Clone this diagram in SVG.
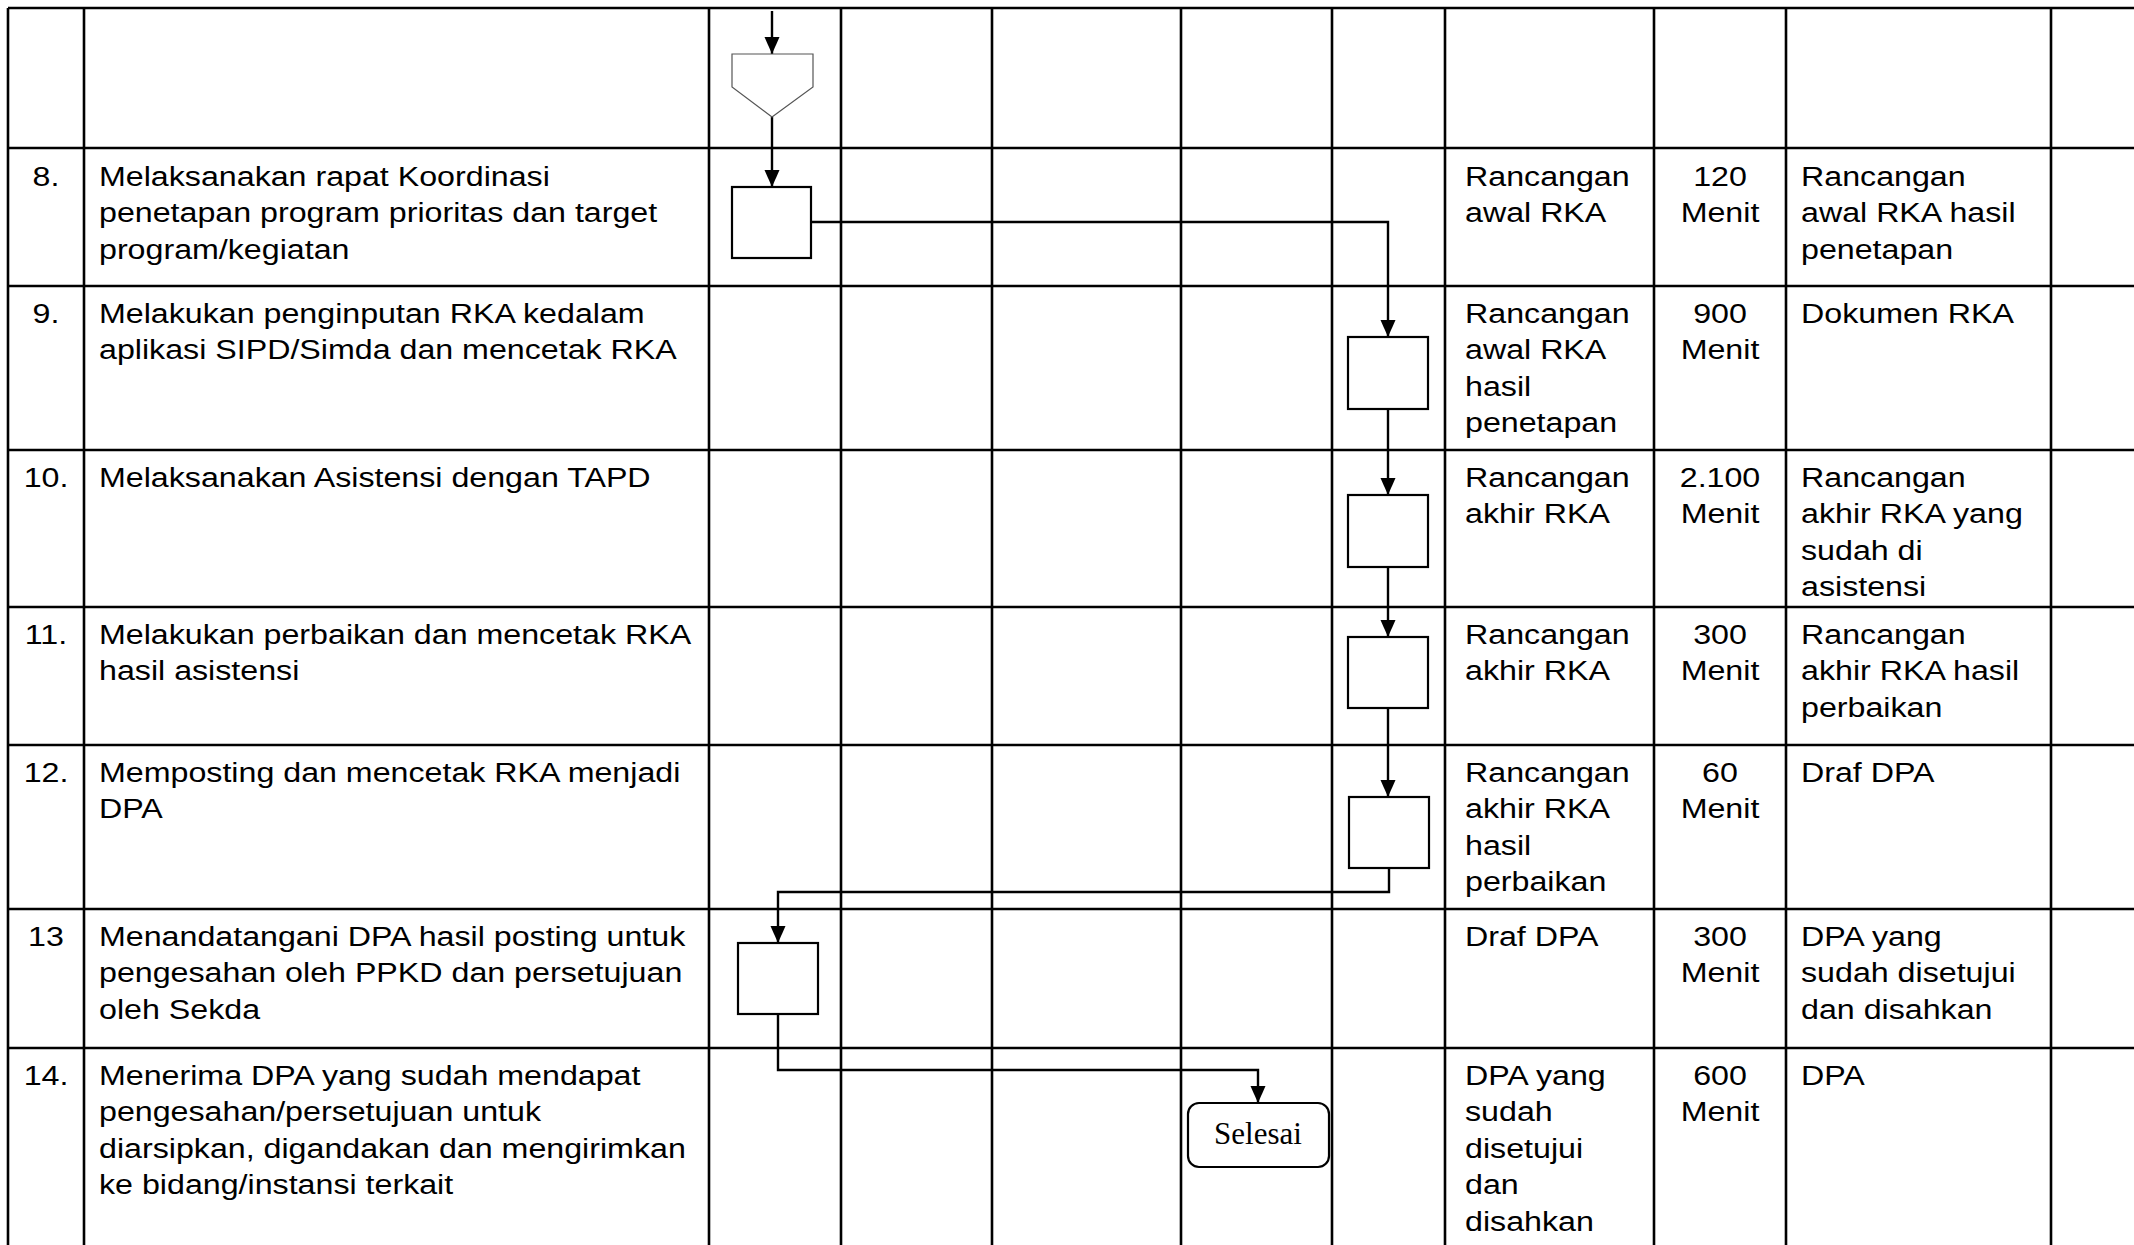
<svg xmlns="http://www.w3.org/2000/svg" width="2134" height="1245" viewBox="0 0 2134 1245">
<style>
.grid line{stroke:#000;stroke-width:2.6}
.t{font-family:"Liberation Sans",Arial,sans-serif;font-size:28px;fill:#000}
.box{fill:#fff;stroke:#000;stroke-width:2.2}
.conn{fill:none;stroke:#000;stroke-width:2.4}
.off{fill:#fff;stroke:#555;stroke-width:1.2}
.sel{font-family:"Liberation Serif","Times New Roman",serif;font-size:31px;fill:#000}
</style>
<defs>
<marker id="ah" markerUnits="userSpaceOnUse" markerWidth="17" markerHeight="17" viewBox="0 0 17 17" refX="17" refY="8.5" orient="auto">
<path d="M0,1 L17,8.5 L0,16 Z" fill="#000"/>
</marker>
</defs>
<rect width="2134" height="1245" fill="#fff"/>
<g id="table" class="grid">
<line x1="8" y1="8" x2="2134" y2="8"/>
<line x1="8" y1="148" x2="2134" y2="148"/>
<line x1="8" y1="286" x2="2134" y2="286"/>
<line x1="8" y1="450" x2="2134" y2="450"/>
<line x1="8" y1="607" x2="2134" y2="607"/>
<line x1="8" y1="745" x2="2134" y2="745"/>
<line x1="8" y1="909" x2="2134" y2="909"/>
<line x1="8" y1="1048" x2="2134" y2="1048"/>
<line x1="8" y1="8" x2="8" y2="1245"/>
<line x1="84" y1="8" x2="84" y2="1245"/>
<line x1="709" y1="8" x2="709" y2="1245"/>
<line x1="841" y1="8" x2="841" y2="1245"/>
<line x1="992" y1="8" x2="992" y2="1245"/>
<line x1="1181" y1="8" x2="1181" y2="1245"/>
<line x1="1332" y1="8" x2="1332" y2="1245"/>
<line x1="1445" y1="8" x2="1445" y2="1245"/>
<line x1="1654" y1="8" x2="1654" y2="1245"/>
<line x1="1786" y1="8" x2="1786" y2="1245"/>
<line x1="2051" y1="8" x2="2051" y2="1245"/>
</g>
<g id="texts" class="t">
<g id="row8">
<text class="t" text-anchor="middle" transform="matrix(1.15 0 0 1 46 186)">8.</text>
<text class="t" transform="matrix(1.15 0 0 1 99 186)"><tspan x="0" y="0">Melaksanakan rapat Koordinasi</tspan><tspan x="0" y="36.5">penetapan program prioritas dan target</tspan><tspan x="0" y="73">program/kegiatan</tspan></text>
<text class="t" transform="matrix(1.15 0 0 1 1465 186)"><tspan x="0" y="0">Rancangan</tspan><tspan x="0" y="36.5">awal RKA</tspan></text>
<text class="t" text-anchor="middle" transform="matrix(1.15 0 0 1 1720 186)"><tspan x="0" y="0">120</tspan><tspan x="0" y="36.5">Menit</tspan></text>
<text class="t" transform="matrix(1.15 0 0 1 1801 186)"><tspan x="0" y="0">Rancangan</tspan><tspan x="0" y="36.5">awal RKA hasil</tspan><tspan x="0" y="73">penetapan</tspan></text>
</g>
<g id="row9">
<text class="t" text-anchor="middle" transform="matrix(1.15 0 0 1 46 323)">9.</text>
<text class="t" transform="matrix(1.15 0 0 1 99 323)"><tspan x="0" y="0">Melakukan penginputan RKA kedalam</tspan><tspan x="0" y="36.5">aplikasi SIPD/Simda dan mencetak RKA</tspan></text>
<text class="t" transform="matrix(1.15 0 0 1 1465 323)"><tspan x="0" y="0">Rancangan</tspan><tspan x="0" y="36.5">awal RKA</tspan><tspan x="0" y="73">hasil</tspan><tspan x="0" y="109.5">penetapan</tspan></text>
<text class="t" text-anchor="middle" transform="matrix(1.15 0 0 1 1720 323)"><tspan x="0" y="0">900</tspan><tspan x="0" y="36.5">Menit</tspan></text>
<text class="t" transform="matrix(1.15 0 0 1 1801 323)">Dokumen RKA</text>
</g>
<g id="row10">
<text class="t" text-anchor="middle" transform="matrix(1.15 0 0 1 46 487)">10.</text>
<text class="t" transform="matrix(1.15 0 0 1 99 487)">Melaksanakan Asistensi dengan TAPD</text>
<text class="t" transform="matrix(1.15 0 0 1 1465 487)"><tspan x="0" y="0">Rancangan</tspan><tspan x="0" y="36.5">akhir RKA</tspan></text>
<text class="t" text-anchor="middle" transform="matrix(1.15 0 0 1 1720 487)"><tspan x="0" y="0">2.100</tspan><tspan x="0" y="36.5">Menit</tspan></text>
<text class="t" transform="matrix(1.15 0 0 1 1801 487)"><tspan x="0" y="0">Rancangan</tspan><tspan x="0" y="36.5">akhir RKA yang</tspan><tspan x="0" y="73">sudah di</tspan><tspan x="0" y="109.5">asistensi</tspan></text>
</g>
<g id="row11">
<text class="t" text-anchor="middle" transform="matrix(1.15 0 0 1 46 644)">11.</text>
<text class="t" transform="matrix(1.15 0 0 1 99 644)"><tspan x="0" y="0">Melakukan perbaikan dan mencetak RKA</tspan><tspan x="0" y="36.5">hasil asistensi</tspan></text>
<text class="t" transform="matrix(1.15 0 0 1 1465 644)"><tspan x="0" y="0">Rancangan</tspan><tspan x="0" y="36.5">akhir RKA</tspan></text>
<text class="t" text-anchor="middle" transform="matrix(1.15 0 0 1 1720 644)"><tspan x="0" y="0">300</tspan><tspan x="0" y="36.5">Menit</tspan></text>
<text class="t" transform="matrix(1.15 0 0 1 1801 644)"><tspan x="0" y="0">Rancangan</tspan><tspan x="0" y="36.5">akhir RKA hasil</tspan><tspan x="0" y="73">perbaikan</tspan></text>
</g>
<g id="row12">
<text class="t" text-anchor="middle" transform="matrix(1.15 0 0 1 46 782)">12.</text>
<text class="t" transform="matrix(1.15 0 0 1 99 782)"><tspan x="0" y="0">Memposting dan mencetak RKA menjadi</tspan><tspan x="0" y="36.5">DPA</tspan></text>
<text class="t" transform="matrix(1.15 0 0 1 1465 782)"><tspan x="0" y="0">Rancangan</tspan><tspan x="0" y="36.5">akhir RKA</tspan><tspan x="0" y="73">hasil</tspan><tspan x="0" y="109.5">perbaikan</tspan></text>
<text class="t" text-anchor="middle" transform="matrix(1.15 0 0 1 1720 782)"><tspan x="0" y="0">60</tspan><tspan x="0" y="36.5">Menit</tspan></text>
<text class="t" transform="matrix(1.15 0 0 1 1801 782)">Draf DPA</text>
</g>
<g id="row13">
<text class="t" text-anchor="middle" transform="matrix(1.15 0 0 1 46 946)">13</text>
<text class="t" transform="matrix(1.15 0 0 1 99 946)"><tspan x="0" y="0">Menandatangani DPA hasil posting untuk</tspan><tspan x="0" y="36.5">pengesahan oleh PPKD dan persetujuan</tspan><tspan x="0" y="73">oleh Sekda</tspan></text>
<text class="t" transform="matrix(1.15 0 0 1 1465 946)">Draf DPA</text>
<text class="t" text-anchor="middle" transform="matrix(1.15 0 0 1 1720 946)"><tspan x="0" y="0">300</tspan><tspan x="0" y="36.5">Menit</tspan></text>
<text class="t" transform="matrix(1.15 0 0 1 1801 946)"><tspan x="0" y="0">DPA yang</tspan><tspan x="0" y="36.5">sudah disetujui</tspan><tspan x="0" y="73">dan disahkan</tspan></text>
</g>
<g id="row14">
<text class="t" text-anchor="middle" transform="matrix(1.15 0 0 1 46 1085)">14.</text>
<text class="t" transform="matrix(1.15 0 0 1 99 1085)"><tspan x="0" y="0">Menerima DPA yang sudah mendapat</tspan><tspan x="0" y="36.5">pengesahan/persetujuan untuk</tspan><tspan x="0" y="73">diarsipkan, digandakan dan mengirimkan</tspan><tspan x="0" y="109.5">ke bidang/instansi terkait</tspan></text>
<text class="t" transform="matrix(1.15 0 0 1 1465 1085)"><tspan x="0" y="0">DPA yang</tspan><tspan x="0" y="36.5">sudah</tspan><tspan x="0" y="73">disetujui</tspan><tspan x="0" y="109.5">dan</tspan><tspan x="0" y="146">disahkan</tspan></text>
<text class="t" text-anchor="middle" transform="matrix(1.15 0 0 1 1720 1085)"><tspan x="0" y="0">600</tspan><tspan x="0" y="36.5">Menit</tspan></text>
<text class="t" transform="matrix(1.15 0 0 1 1801 1085)">DPA</text>
</g>
</g>
<g id="connectors" class="conn">
<path d="M772,11 L772,54" marker-end="url(#ah)"/>
<path d="M772,117 L772,187" marker-end="url(#ah)"/>
<path d="M811,222 L1388,222 L1388,337" marker-end="url(#ah)"/>
<path d="M1388,409 L1388,495" marker-end="url(#ah)"/>
<path d="M1388,567 L1388,637" marker-end="url(#ah)"/>
<path d="M1388,708 L1388,797" marker-end="url(#ah)"/>
<path d="M1389,868 L1389,892 L778,892 L778,943" marker-end="url(#ah)"/>
<path d="M778,1014 L778,1070 L1258,1070 L1258,1103" marker-end="url(#ah)"/>
</g>
<g id="offpage"><polygon class="off" points="732,54 813,54 813,87 772,117 732,87"/></g>
<g id="step8"><rect class="box" x="732" y="187" width="79" height="71"/></g>
<g id="step9"><rect class="box" x="1348" y="337" width="80" height="72"/></g>
<g id="step10"><rect class="box" x="1348" y="495" width="80" height="72"/></g>
<g id="step11"><rect class="box" x="1348" y="637" width="80" height="71"/></g>
<g id="step12"><rect class="box" x="1349" y="797" width="80" height="71"/></g>
<g id="step13"><rect class="box" x="738" y="943" width="80" height="71"/></g>
<g id="selesai"><rect class="box" x="1188" y="1103" width="141" height="64" rx="11"/><text class="sel" x="1258" y="1144" text-anchor="middle">Selesai</text></g>
</svg>
